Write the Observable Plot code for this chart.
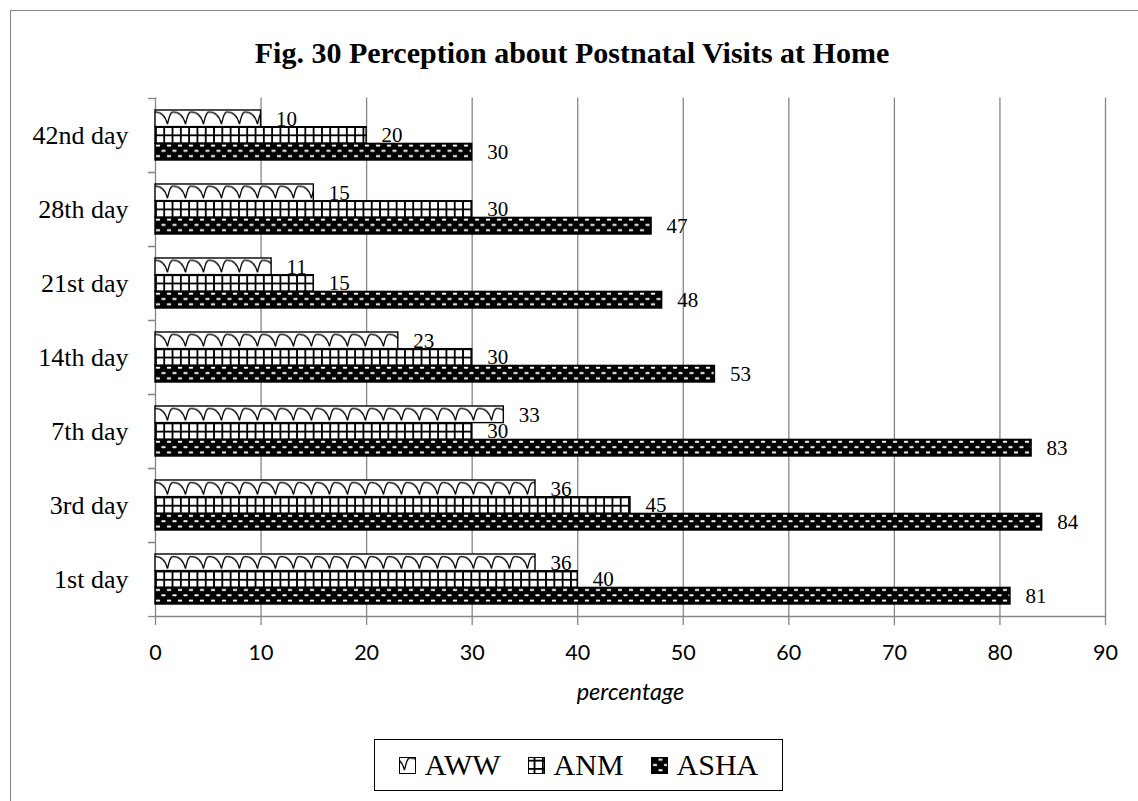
<!DOCTYPE html>
<html>
<head>
<meta charset="utf-8">
<script src="https://cdn.jsdelivr.net/npm/d3@7"></script>
<script src="https://cdn.jsdelivr.net/npm/@observablehq/plot@0.6"></script>
<style>
  html, body { margin: 0; padding: 0; overflow: hidden; background: #fff; }
  #stage { position: relative; width: 1138px; height: 801px; overflow: hidden; }
  #border { position: absolute; left: 9.5px; top: 9.5px; width: 1300px; height: 1000px; border: 1px solid #868686; }
  #title { position: absolute; left: 0; top: 36px; width: 1144px; text-align: center;
           font: bold 30px "Liberation Serif", "Times New Roman", serif; line-height: 34px; color: #000; }
  #chart { position: absolute; left: 0; top: 0; }
  #legend { position: absolute; left: 374px; top: 739px; width: 409px; height: 52px; box-sizing: border-box;
            border: 1px solid #000; display: flex; align-items: center; justify-content: center; gap: 27px;
            font: 30px "Liberation Serif", "Times New Roman", serif; color: #000; background: #fff; }
  .item { display: flex; align-items: center; }
  .item svg { margin-right: 9px; }
</style>
</head>
<body>
<svg id="defs" width="0" height="0" style="position:absolute"></svg>
<div id="stage">
  <div id="border"></div>
  <div id="chart"></div>
  <div id="title">Fig. 30 Perception about Postnatal Visits at Home</div>
  <div id="legend"></div>
</div>
<script>
// ---- data ----
const days = ["42nd day", "28th day", "21st day", "14th day", "7th day", "3rd day", "1st day"];
const seriesNames = ["AWW", "ANM", "ASHA"];
const awwValues = [10, 15, 11, 23, 33, 36, 36];
const anmValues = [20, 30, 15, 30, 30, 45, 40];
const ashaValues = [30, 47, 48, 53, 83, 84, 81];
const xTicks = [0, 10, 20, 30, 40, 50, 60, 70, 80, 90];
const xLabel = "percentage";

// ---- layout / style ----
const W = 1138, H = 801, mTop = 97.5, mBottom = 185, mLeft = 155, mRight = 33;
const bw = (H - mTop - mBottom) / days.length;   // band height
const barH = 16.7;
const grid = "#868686";
const serif = "Liberation Serif, Times New Roman, serif";
const sans = "Lato, Open Sans, sans-serif";
const patterns = {AWW: "url(#pAWW)", ANM: "url(#pANM)", ASHA: "url(#pASHA)"};

const series = [
  {name: "AWW", values: awwValues, slot: -1},
  {name: "ANM", values: anmValues, slot: 0},
  {name: "ASHA", values: ashaValues, slot: 1}
];
const barTop = s => bw / 2 - barH * 1.5 + (s.slot + 1) * barH;

// ---- hatch patterns, aligned so every bar shows the same phase ----
const mod = (a, b) => ((a % b) + b) % b;
const hA = bw / 4, yA = mod(mTop + barTop(series[0]), hA);
const hN = bw / 9, yN = mod(mTop + barTop(series[1]), hN);
const hS = bw / 7, yS = mod(mTop + barTop(series[2]), hS);
const rowS = hS / 2;
document.getElementById("defs").innerHTML = `
<defs>
  <pattern id="pAWW" patternUnits="userSpaceOnUse" x="${mLeft}" y="${yA}" width="18" height="${hA}">
    <rect width="18" height="${hA}" fill="#fff"/>
    <path d="M0,2.6 C7,2.6 11,8.5 12.5,14.8 C13.8,9 15,2.6 18,2.6" fill="none" stroke="#000" stroke-width="1.25"/>
  </pattern>
  <pattern id="pANM" patternUnits="userSpaceOnUse" x="${mLeft}" y="${yN}" width="8.3" height="${hN}">
    <rect width="8.3" height="${hN}" fill="#fff"/>
    <path d="M0,0.9H8.3M0.9,0V${hN}" fill="none" stroke="#000" stroke-width="1.9"/>
  </pattern>
  <pattern id="pASHA" patternUnits="userSpaceOnUse" x="${mLeft}" y="${yS}" width="11" height="${hS}">
    <rect width="11" height="${hS}" fill="#000"/>
    <rect x="0.8" y="${rowS * 0.5 - 0.95}" width="4.4" height="1.9" rx="0.9" fill="#fff"/>
    <rect x="6.3" y="${rowS * 1.5 - 0.95}" width="4.4" height="1.9" rx="0.9" fill="#fff"/>
  </pattern>
</defs>`;

const seriesMarks = series.flatMap(s => {
  const rows = days.map((d, i) => ({day: d, value: s.values[i]}));
  const top = barTop(s);
  return [
    Plot.barX(rows, {
      x: "value", y: "day",
      fill: patterns[s.name], stroke: "#000", strokeWidth: 1.4,
      insetTop: top, insetBottom: bw - top - barH
    }),
    Plot.text(rows, {
      x: "value", y: "day", text: d => String(d.value),
      dx: 15, dy: s.slot * barH, textAnchor: "start", lineAnchor: "middle",
      fontFamily: serif, fontSize: 21, fill: "#000"
    })
  ];
});

const chart = Plot.plot({
  width: W, height: H,
  marginTop: mTop, marginBottom: mBottom, marginLeft: mLeft, marginRight: mRight,
  style: {fontFamily: serif, color: "#000", background: "transparent", overflow: "visible"},
  x: {domain: [0, 90], axis: null},
  y: {domain: days, padding: 0, axis: null},
  marks: [
    Plot.gridX(xTicks, {stroke: grid, strokeOpacity: 1, strokeWidth: 1.3}),
    Plot.frame({anchor: "bottom", stroke: grid, strokeWidth: 1.3}),
    // boundary ticks of the category axis (band edges)
    Plot.axisY({anchor: "left", tickSize: 7, stroke: grid, strokeWidth: 1.3, fill: "none", dy: -bw / 2, label: null}),
    Plot.axisY({anchor: "left", tickSize: 7, stroke: grid, strokeWidth: 1.3, fill: "none", dy: bw / 2, label: null}),
    ...seriesMarks,
    // category labels
    Plot.axisY({anchor: "left", tickSize: 0, tickPadding: 27, fontSize: 26, fontFamily: serif, fill: "#000", label: null}),
    // x axis
    Plot.axisX(xTicks, {anchor: "bottom", tickSize: 9, tickPadding: 19, stroke: grid, strokeWidth: 1.3,
      fontSize: 21.5, fontFamily: sans, fill: "#000", label: null}),
    Plot.text([xLabel], {frameAnchor: "bottom", dy: 76, lineAnchor: "middle", text: d => d,
      fontFamily: sans, fontStyle: "italic", fontSize: 23.5, fill: "#000"})
  ]
});
document.getElementById("chart").appendChild(chart);

// ---- legend ----
const legend = document.getElementById("legend");
for (const name of seriesNames) {
  const item = document.createElement("div");
  item.className = "item";
  item.innerHTML = `<svg width="17" height="17"><rect x="0.5" y="0.5" width="16" height="16" fill="${patterns[name]}" stroke="#000" stroke-width="1"/></svg><span>${name}</span>`;
  legend.appendChild(item);
}
</script>
</body>
</html>
